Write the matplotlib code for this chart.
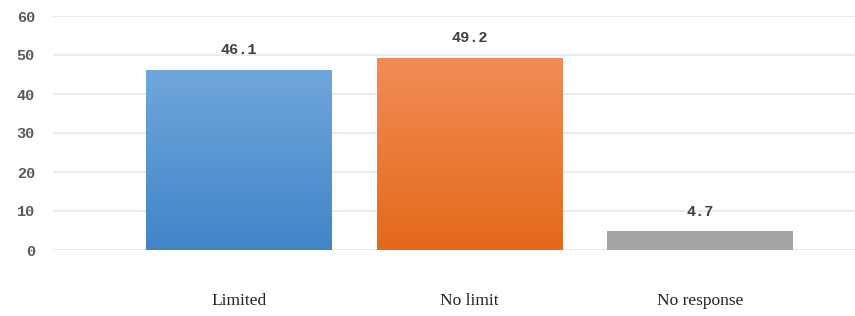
import matplotlib
matplotlib.use("Agg")
import matplotlib.pyplot as plt
import numpy as np
from matplotlib.colors import LinearSegmentedColormap

categories = ["Limited", "No limit", "No response"]
values = [46.1, 49.2, 4.7]
yticks = [0, 10, 20, 30, 40, 50, 60]
value_labels = ["46.1", "49.2", "4.7"]

top_colors = ["#70A6DC", "#F28C56", "#A5A5A5"]
bottom_colors = ["#4185C8", "#E3691A", "#A5A5A5"]

W, H = 855, 316
fig = plt.figure(figsize=(W / 100, H / 100), dpi=100)
ax = fig.add_axes([53 / W, (H - 250) / H, (W - 53) / W, 234 / H])

x = np.arange(len(categories))
width = 0.805
bars = ax.bar(x, values, width=width, color="none", zorder=3)

for i, b in enumerate(bars):
    cmap = LinearSegmentedColormap.from_list("g", [bottom_colors[i], top_colors[i]])
    grad = np.linspace(0, 1, 256).reshape(-1, 1)
    x0, y0 = b.get_x(), b.get_y()
    w, h = b.get_width(), b.get_height()
    ax.imshow(grad, cmap=cmap, origin="lower", aspect="auto",
              extent=[x0, x0 + w, y0, y0 + h], zorder=3)
    ax.text(b.get_x() + w / 2, h + 3.3, value_labels[i], ha="center", va="bottom",
            fontsize=11, family="Liberation Mono", color="#404040",
            fontweight="bold", zorder=4)

ax.set_xlim(-0.805, 2.67)
ax.set_ylim(0, 60)
ax.set_yticks(yticks)
ax.set_yticklabels([str(t) for t in yticks], family="Liberation Mono",
                   fontsize=11, color="#595959", fontweight="bold")
ax.yaxis.grid(True, color="#E6E8EE", linewidth=1.2, zorder=0)
ax.set_axisbelow(True)
ax.set_xticks(x)
ax.set_xticklabels(categories, family="Liberation Serif", fontsize=12.5, color="#222222")
ax.tick_params(axis="x", length=0, pad=31)
ax.tick_params(axis="y", length=0, pad=13)
for s in ax.spines.values():
    s.set_visible(False)

fig.savefig("out.png", dpi=100, facecolor="white")
